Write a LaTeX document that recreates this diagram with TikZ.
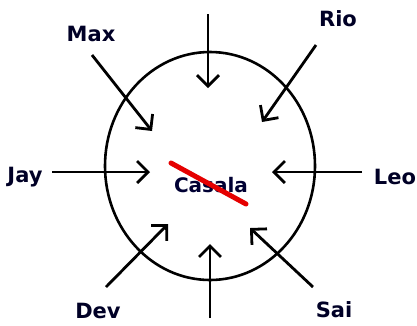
\documentclass[tikz,border=0pt]{standalone}
\usepackage{fontspec}
\setmainfont{DejaVu Sans}
\usetikzlibrary{arrows.meta}

\begin{document}
\begin{tikzpicture}[x=1pt,y=-1pt,
  person/.style={font=\fontsize{21}{24}\selectfont\bfseries,text=black!85!blue},
  arr/.style={line width=2.8pt,-{Straight Barb[length=11pt,width=22pt,line width=2.8pt]}}]
 \useasboundingbox (0,0) rectangle (417,325);
 \draw[line width=2.6pt] (210,166) ellipse (105 and 114);
 \node[font=\fontsize{20}{24}\selectfont\bfseries,text=black!80!blue] (hub) at (211,185) {Casala};
 \draw[red!90!black,line width=5pt,line cap=round] (171,163) -- (246,204);
 \node[person] (max) at (91,34) {Max};
 \node[person] (rio) at (338,19) {Rio};
 \node[person] (jay) at (25,177) {Jay};
 \node[person] (leo) at (395,177) {Leo};
 \node[person] (dev) at (98,311) {Dev};
 \node[person] (sai) at (334,310) {Sai};
 \coordinate (top0) at (208,14);   \coordinate (top1) at (208,88);
 \coordinate (rio0) at (316,45);   \coordinate (rio1) at (262,122);
 \coordinate (max0) at (92,55);    \coordinate (max1) at (152,131);
 \coordinate (jay0) at (52,172);   \coordinate (jay1) at (150,172);
 \coordinate (leo0) at (362,172);  \coordinate (leo1) at (272,172);
 \coordinate (dev0) at (106,287);  \coordinate (dev1) at (168,224);
 \coordinate (bot0) at (210,318);  \coordinate (bot1) at (210,244);
 \coordinate (sai0) at (313,287);  \coordinate (sai1) at (250,228);
 \foreach \a in {top,rio,max,jay,leo,dev,bot,sai}
  \draw[arr] (\a0) -- (\a1);
\end{tikzpicture}
\end{document}
